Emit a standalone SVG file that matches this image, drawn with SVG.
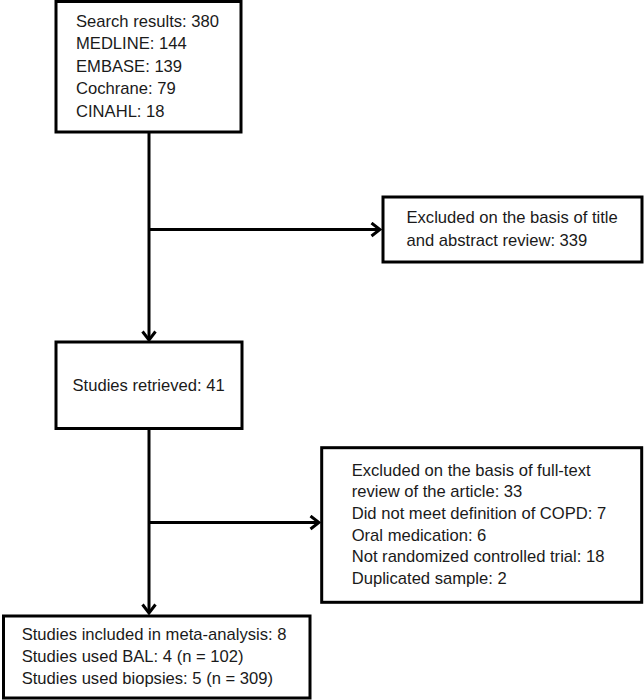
<svg xmlns="http://www.w3.org/2000/svg" width="644" height="700" viewBox="0 0 644 700">
<style>
.box{fill:#fff;stroke:#000;stroke-width:3}
.t{font-family:"Liberation Sans",Arial,sans-serif;font-size:16.6px;fill:#1a1a1a}
.c{fill:none;stroke:#000;stroke-width:3}
</style>
<defs>
<marker id="arr" viewBox="-12 -8 14 16" markerWidth="14" markerHeight="16" refX="0" refY="0" orient="auto" markerUnits="userSpaceOnUse">
<path d="M-8.5,-6.5 L0,0 L-8.5,6.5" fill="none" stroke="#000" stroke-width="3"/>
</marker>
</defs>
<rect width="644" height="700" fill="#fff"/>
<g id="connectors">
<path class="c" d="M149,132 V340" marker-end="url(#arr)"/>
<path class="c" d="M149,229.5 H380" marker-end="url(#arr)"/>
<path class="c" d="M149,428.5 V613" marker-end="url(#arr)"/>
<path class="c" d="M149,522.5 H319" marker-end="url(#arr)"/>
</g>
<g id="search">
<rect class="box" x="56" y="1.5" width="185" height="130.5"/>
<text class="t" x="76" y="26.7">Search results: 380</text>
<text class="t" x="76" y="49.3">MEDLINE: 144</text>
<text class="t" x="76" y="71.8">EMBASE: 139</text>
<text class="t" x="76" y="94.3">Cochrane: 79</text>
<text class="t" x="76" y="116.8">CINAHL: 18</text>
</g>
<g id="excluded1">
<rect class="box" x="383" y="197" width="259" height="65"/>
<text class="t" x="406.5" y="223">Excluded on the basis of title</text>
<text class="t" x="406.5" y="246">and abstract review: 339</text>
</g>
<g id="retrieved">
<rect class="box" x="56" y="342" width="186" height="86.5"/>
<text class="t" x="72.5" y="390.7">Studies retrieved: 41</text>
</g>
<g id="excluded2">
<rect class="box" x="321.7" y="447.7" width="320" height="154.6"/>
<text class="t" x="351.7" y="475.7">Excluded on the basis of full-text</text>
<text class="t" x="351.7" y="497.3">review of the article: 33</text>
<text class="t" x="351.7" y="519">Did not meet definition of COPD: 7</text>
<text class="t" x="351.7" y="540.7">Oral medication: 6</text>
<text class="t" x="351.7" y="562.3">Not randomized controlled trial: 18</text>
<text class="t" x="351.7" y="584">Duplicated sample: 2</text>
</g>
<g id="included">
<rect class="box" x="3.5" y="616" width="306.5" height="82"/>
<text class="t" x="21.7" y="640">Studies included in meta-analysis: 8</text>
<text class="t" x="21.7" y="662">Studies used BAL: 4 (n = 102)</text>
<text class="t" x="21.7" y="684.3">Studies used biopsies: 5 (n = 309)</text>
</g>
</svg>
